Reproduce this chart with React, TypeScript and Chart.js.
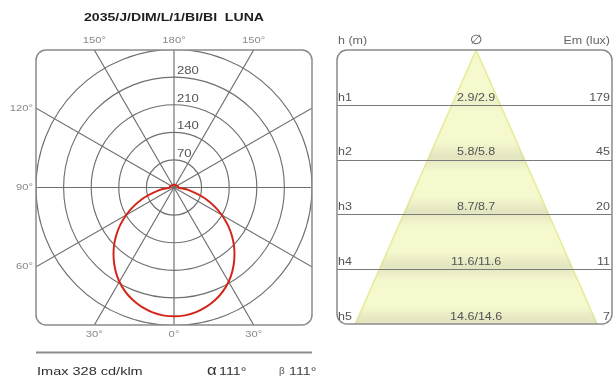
import React, { useEffect, useRef } from "react";
import { Chart, registerables } from "chart.js";
Chart.register(...registerables);

// ---------- data ----------
const TITLE = "2035/J/DIM/L/1/BI/BI  LUNA";
const gammaAngles = [0, 10, 20, 30, 40, 50, 60, 70, 80, 90, 100, 110, 120, 130, 140, 150, 160, 170, 180];
const intensityCd = [328, 322, 305, 277, 238, 192, 140, 86, 38, 10, 11, 10, 9, 8, 8, 7, 7, 7, 7];
const ringValues = [70, 140, 210, 280, 350];
const ringLabels = ["70", "140", "210", "280"];
const spokeAngles = [0, 30, 60, 90, 120, 150, 180, 210, 240, 270, 300, 330];
const angleLabelTexts = ["150°", "180°", "150°", "120°", "90°", "60°", "30°", "0°", "30°"];
const angleLabelGammas = [150, 180, 150, 120, 90, 60, 30, 0, 30];
const angleLabelSides = [-1, 1, 1, -1, -1, -1, -1, 1, 1];
const IMAX = 328;
const ALPHA = 111;
const BETA = 111;

const heights = [1, 2, 3, 4, 5];
const rowLabels = ["h1", "h2", "h3", "h4", "h5"];
const diameters = [2.9, 5.8, 8.7, 11.6, 14.6];
const diameterLabels = ["2.9/2.9", "5.8/5.8", "8.7/8.7", "11.6/11.6", "14.6/14.6"];
const emLux = [179, 45, 20, 11, 7];

const FONT = '"Liberation Sans", Arial, sans-serif';

function txt(ctx: CanvasRenderingContext2D, s: string, x: number, y: number, align: CanvasTextAlign, font: string, color: string, sx = 1.25) {
  ctx.save();
  ctx.font = font;
  ctx.fillStyle = color;
  ctx.textAlign = align;
  ctx.textBaseline = "middle";
  ctx.translate(x, y);
  ctx.scale(sx, 1);
  ctx.fillText(s, 0, 0);
  ctx.restore();
}

function buildCurve() {
  const pts: { x: number; y: number }[] = [];
  for (let i = gammaAngles.length - 1; i >= 0; i--) {
    const g = (gammaAngles[i] * Math.PI) / 180;
    pts.push({ x: intensityCd[i] * Math.sin(g), y: -intensityCd[i] * Math.cos(g) });
  }
  for (let i = 1; i < gammaAngles.length; i++) {
    const g = (gammaAngles[i] * Math.PI) / 180;
    pts.push({ x: -intensityCd[i] * Math.sin(g), y: -intensityCd[i] * Math.cos(g) });
  }
  return pts;
}

const polarPlugin = {
  id: "polarGrid",
  beforeDatasetsDraw(chart: any) {
    const { ctx, chartArea: a, scales } = chart;
    const xs = scales.x, ys = scales.y;
    const cx = xs.getPixelForValue(0), cy = ys.getPixelForValue(0);
    const pxPerCd = xs.getPixelForValue(1) - cx;
    ctx.save();
    ctx.beginPath();
    ctx.roundRect(a.left, a.top, a.right - a.left, a.bottom - a.top, 10);
    ctx.clip();
    ctx.strokeStyle = "#6f6f6f";
    ctx.lineWidth = 1.15;
    ringValues.forEach((r) => {
      ctx.beginPath();
      ctx.arc(cx, cy, r * pxPerCd, 0, Math.PI * 2);
      ctx.stroke();
    });
    spokeAngles.forEach((g) => {
      const rad = (g * Math.PI) / 180;
      const far = 1000;
      ctx.beginPath();
      ctx.moveTo(cx, cy);
      ctx.lineTo(xs.getPixelForValue(far * Math.sin(rad)), ys.getPixelForValue(-far * Math.cos(rad)));
      ctx.stroke();
    });
    ctx.restore();
  },
  afterDatasetsDraw(chart: any) {
    const { ctx, chartArea: a, scales } = chart;
    const xs = scales.x, ys = scales.y;
    const cx = xs.getPixelForValue(0);
    ctx.save();
    ctx.strokeStyle = "#8a8a8a";
    ctx.lineWidth = 1.5;
    ctx.beginPath();
    ctx.roundRect(a.left, a.top, a.right - a.left, a.bottom - a.top, 10);
    ctx.stroke();
    ctx.restore();
    ringLabels.forEach((s, i) => {
      const py = ys.getPixelForValue(ringValues[i]);
      txt(ctx, s, cx + 3, py - 6, "left", `10.5px ${FONT}`, "#555");
    });
    angleLabelTexts.forEach((s, i) => {
      const g = (angleLabelGammas[i] * Math.PI) / 180;
      const dx = angleLabelSides[i] * Math.sin(g);
      const dy = -Math.cos(g);
      const lim = 350;
      const t = lim / Math.max(Math.abs(dx), Math.abs(dy));
      const px = xs.getPixelForValue(t * dx);
      const py = ys.getPixelForValue(t * dy);
      if (Math.abs(dy) >= Math.abs(dx)) {
        txt(ctx, s, px, dy > 0 ? py - 9 : py + 10, "center", `9px ${FONT}`, "#8a8a8a");
      } else {
        txt(ctx, s, px - 3, py, "right", `9px ${FONT}`, "#8a8a8a");
      }
    });
    txt(ctx, TITLE, cx, 18, "center", `bold 11px ${FONT}`, "#1e1e1e", 1.28);
    ctx.save();
    ctx.strokeStyle = "#8c8c8c";
    ctx.lineWidth = 2;
    ctx.beginPath();
    ctx.moveTo(a.left, 352.5);
    ctx.lineTo(a.right, 352.5);
    ctx.stroke();
    ctx.restore();
    txt(ctx, `Imax ${IMAX} cd/klm`, a.left + 1, 372, "left", `11px ${FONT}`, "#2e2e2e", 1.32);
    txt(ctx, "α", 207, 371, "left", `14px ${FONT}`, "#333", 1.2);
    txt(ctx, `${ALPHA}°`, 219, 372, "left", `11px ${FONT}`, "#333", 1.3);
    txt(ctx, "β", 279, 372, "left", `9px ${FONT}`, "#555", 1.1);
    txt(ctx, `${BETA}°`, 289, 372, "left", `11px ${FONT}`, "#444", 1.3);
  },
};

const conePlugin = {
  id: "coneGrid",
  afterDatasetsDraw(chart: any) {
    const { ctx, chartArea: a, scales } = chart;
    const xs = scales.x, ys = scales.y;
    const cx = xs.getPixelForValue(0);
    const half = diameters[diameters.length - 1] / 2;
    const hMax = heights[heights.length - 1];
    ctx.save();
    ctx.beginPath();
    ctx.moveTo(cx, ys.getPixelForValue(0));
    ctx.lineTo(xs.getPixelForValue(-half), ys.getPixelForValue(hMax));
    ctx.lineTo(xs.getPixelForValue(half), ys.getPixelForValue(hMax));
    ctx.closePath();
    ctx.clip();
    heights.forEach((h, i) => {
      const yc = ys.getPixelForValue(h) - 3;
      const hh = i === 0 ? 10 : 15;
      const g = ctx.createLinearGradient(0, yc - hh, 0, yc + hh);
      g.addColorStop(0, "rgba(185,185,160,0)");
      g.addColorStop(0.5, i === 0 ? "rgba(185,185,160,0.12)" : "rgba(185,185,160,0.3)");
      g.addColorStop(1, "rgba(185,185,160,0)");
      ctx.fillStyle = g;
      ctx.fillRect(a.left, yc - hh, a.right - a.left, hh * 2);
    });
    ctx.restore();
    ctx.save();
    ctx.strokeStyle = "#7a7a7a";
    ctx.lineWidth = 1.2;
    heights.forEach((h, i) => {
      if (i === heights.length - 1) return;
      const py = Math.round(ys.getPixelForValue(h)) + 0.5;
      ctx.beginPath();
      ctx.moveTo(a.left, py);
      ctx.lineTo(a.right, py);
      ctx.stroke();
    });
    ctx.strokeStyle = "#8a8a8a";
    ctx.lineWidth = 1.5;
    ctx.beginPath();
    ctx.roundRect(a.left, a.top, a.right - a.left, a.bottom - a.top, 10);
    ctx.stroke();
    ctx.restore();
    txt(ctx, "h (m)", a.left + 1, 41, "left", `10px ${FONT}`, "#666");
    txt(ctx, "∅", cx, 40, "center", `13px ${FONT}`, "#555", 1.1);
    txt(ctx, "Em (lux)", a.right - 2, 41, "right", `10px ${FONT}`, "#666");
    heights.forEach((h, i) => {
      const py = ys.getPixelForValue(h) - 7;
      txt(ctx, rowLabels[i], a.left + 1, py, "left", `10px ${FONT}`, "#555");
      txt(ctx, diameterLabels[i], cx, py, "center", `10px ${FONT}`, "#555");
      txt(ctx, String(emLux[i]), a.right - 2, py, "right", `10px ${FONT}`, "#555");
    });
  },
};

export default function App() {
  const polarRef = useRef<HTMLCanvasElement>(null);
  const coneRef = useRef<HTMLCanvasElement>(null);

  useEffect(() => {
    document.body.style.margin = "0";
    const half = diameters[diameters.length - 1] / 2;
    const hMax = heights[heights.length - 1];
    const c1 = new Chart(polarRef.current as HTMLCanvasElement, {
      type: "scatter",
      data: {
        datasets: [
          {
            data: buildCurve(),
            showLine: true,
            borderColor: "#d3261b",
            borderWidth: 2,
            pointRadius: 0,
            tension: 0.3,
            fill: false,
          } as any,
        ],
      },
      options: {
        responsive: false,
        animation: false,
        devicePixelRatio: 1,
        events: [],
        layout: { padding: { left: 36, right: 18, top: 50, bottom: 53 } },
        scales: {
          x: { type: "linear", min: -350, max: 350, display: false },
          y: { type: "linear", min: -350, max: 350, display: false },
        },
        plugins: { legend: { display: false }, tooltip: { enabled: false } },
      },
      plugins: [polarPlugin],
    });
    const c2 = new Chart(coneRef.current as HTMLCanvasElement, {
      type: "scatter",
      data: {
        datasets: [
          {
            data: [
              { x: -half, y: hMax },
              { x: 0, y: 0 },
              { x: half, y: hMax },
            ],
            showLine: true,
            borderColor: "rgba(230,236,150,1)",
            borderWidth: 1.5,
            backgroundColor: "rgba(246,248,206,1)",
            pointRadius: 0,
            tension: 0,
            fill: "shape",
          } as any,
        ],
      },
      options: {
        responsive: false,
        animation: false,
        devicePixelRatio: 1,
        events: [],
        layout: { padding: { left: 7, right: 1, top: 50, bottom: 54 } },
        scales: {
          x: { type: "linear", min: -8.4, max: 8.2, display: false },
          y: { type: "linear", min: 0, max: 5, reverse: true, display: false },
        },
        plugins: { legend: { display: false }, tooltip: { enabled: false } },
      },
      plugins: [conePlugin],
    });
    return () => {
      c1.destroy();
      c2.destroy();
    };
  }, []);

  return (
    <div style={{ position: "relative", width: 613, height: 378, background: "#fff" }}>
      <canvas ref={polarRef} width={330} height={378} style={{ position: "absolute", left: 0, top: 0 }} />
      <canvas ref={coneRef} width={283} height={378} style={{ position: "absolute", left: 330, top: 0 }} />
    </div>
  );
}
